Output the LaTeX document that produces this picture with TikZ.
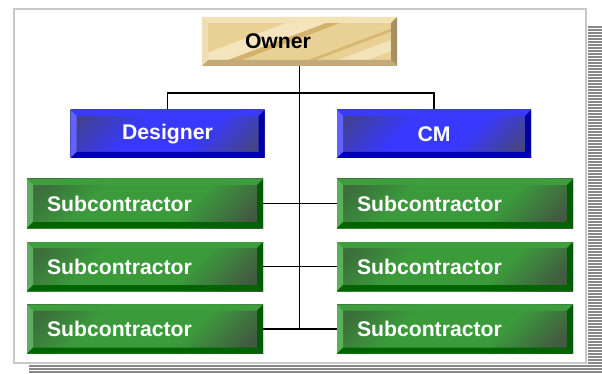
\documentclass[tikz,border=0pt]{standalone}
\usepackage{fontspec}
\setmainfont{Liberation Sans}
\definecolor{framegray}{HTML}{C8C8C8}
\definecolor{shadowgray}{HTML}{888888}
\definecolor{goldface}{HTML}{E9D196}
\definecolor{goldlight}{HTML}{F7EBC9}
\definecolor{golddark}{HTML}{C29A48}
\definecolor{goldtop}{HTML}{F3E2B5}
\definecolor{goldleft}{HTML}{F0DDB0}
\definecolor{goldright}{HTML}{A88F60}
\definecolor{goldbottom}{HTML}{C3AA7A}
\definecolor{blueD}{HTML}{414192}
\definecolor{blueD2}{HTML}{464680}
\definecolor{blueM}{HTML}{3838FF}
\definecolor{bluetop}{HTML}{3A3AFA}
\definecolor{blueleft}{HTML}{6262FF}
\definecolor{blueright}{HTML}{0000A6}
\definecolor{bluebottom}{HTML}{0000B4}
\definecolor{greenD}{HTML}{3B6E3B}
\definecolor{greenD2}{HTML}{425842}
\definecolor{greenM}{HTML}{3B9B3B}
\definecolor{greentop}{HTML}{3E9E3E}
\definecolor{greenleft}{HTML}{5CB05C}
\definecolor{greenright}{HTML}{005C00}
\definecolor{greenbottom}{HTML}{006400}
\pgfdeclareverticalshading{greenface}{100bp}{color(0bp)=(greenD2); color(20bp)=(greenD2); color(38bp)=(greenM); color(64bp)=(greenM); color(80bp)=(greenD); color(100bp)=(greenD)}
\pgfdeclareverticalshading{blueface}{100bp}{color(0bp)=(blueD2); color(20bp)=(blueD2); color(40bp)=(blueM); color(60bp)=(blueM); color(80bp)=(blueD); color(100bp)=(blueD)}
\pgfdeclarelayer{framelayer}
\pgfdeclarelayer{lineslayer}
\pgfsetlayers{framelayer,lineslayer,main}
\tikzset{
  bevel/.style n args={5}{path picture={
    \path (path picture bounding box.north west) coordinate (bNW)
          (path picture bounding box.north east) coordinate (bNE)
          (path picture bounding box.south east) coordinate (bSE)
          (path picture bounding box.south west) coordinate (bSW);
    \clip (bNW) rectangle (bSE);
    #5
    \fill[#1] (bNW) -- (bNE) -- ([shift={(-6,6)}]bNE) -- ([shift={(6,6)}]bNW) -- cycle;
    \fill[#2] (bNW) -- ([shift={(6,6)}]bNW) -- ([shift={(6,-6)}]bSW) -- (bSW) -- cycle;
    \fill[#3] (bNE) -- (bSE) -- ([shift={(-6,-6)}]bSE) -- ([shift={(-6,6)}]bNE) -- cycle;
    \fill[#4] (bSW) -- ([shift={(6,-6)}]bSW) -- ([shift={(-6,-6)}]bSE) -- (bSE) -- cycle;
  }},
  boxtext/.style={font=\bfseries\fontsize{21.2}{25}\selectfont},
  ownerbox/.style={boxtext, text=black, fill=goldface, minimum height=49pt,
    inner xsep=43pt, text width=109pt, align=left,
    bevel={goldtop}{goldleft}{goldright}{goldbottom}{
      \fill[goldlight, opacity=0.8] ([shift={(-30,0)}]bSW) -- ++(130,-49) -- ++(40,0) -- ++(-130,49) -- cycle;
      \fill[golddark, opacity=0.55] ([shift={(10,0)}]bSW) -- ++(130,-49) -- ++(14,0) -- ++(-130,49) -- cycle;
      \fill[golddark, opacity=0.45] ([shift={(90,0)}]bSW) -- ++(130,-49) -- ++(8,0) -- ++(-130,49) -- cycle;
      \fill[goldlight, opacity=0.7] ([shift={(120,0)}]bSW) -- ++(130,-49) -- ++(30,0) -- ++(-130,49) -- cycle;
    }},
  bluebox/.style={boxtext, text=white, shade, shading=blueface, shading angle=45,
    minimum width=194pt, minimum height=48pt,
    bevel={bluetop}{blueleft}{blueright}{bluebottom}{}},
  subbox/.style={boxtext, text=white, shade, shading=greenface, shading angle=45,
    minimum height=49pt,
    inner xsep=20pt, text width=196pt, align=left,
    bevel={greentop}{greenleft}{greenright}{greenbottom}{}},
  conn/.style={line width=1.5pt, black},
}
\begin{document}
\begin{tikzpicture}[x=1pt,y=-1pt]
\useasboundingbox (0,0) rectangle (602,374);
\begin{pgfonlayer}{framelayer}
  \foreach \k in {0,...,116} {
    \fill[shadowgray] (588,26+3*\k) rectangle (602,28+3*\k);
  }
  \foreach \k in {113,...,116} {
    \fill[shadowgray] (29,26+3*\k) rectangle (588,28+3*\k);
  }
  \draw[framegray, line width=2pt, fill=white] (14,9) rectangle (586,363);
\end{pgfonlayer}

\node[ownerbox] (owner) at (299.5,41.5) {Owner};
\node[bluebox] (des) at (167.5,134) {Designer};
\node[bluebox] (cm) at (434,134) {CM};
\node[subbox] (sl1) at (145,203.5) {Subcontractor};
\node[subbox] (sl2) at (145,266.5) {Subcontractor};
\node[subbox] (sl3) at (145,329) {Subcontractor};
\node[subbox] (sr1) at (455,203.5) {Subcontractor};
\node[subbox] (sr2) at (455,266.5) {Subcontractor};
\node[subbox] (sr3) at (455,329) {Subcontractor};

\coordinate (jt) at (299.5,93);
\coordinate (trunkend) at (299.5,329);
\begin{pgfonlayer}{lineslayer}
  \draw[conn] (owner.south) -- (trunkend);
  \draw[conn] (des.north) |- (jt) -| (cm.north);
  \draw[conn] (sl1.east) -- (sr1.west);
  \draw[conn] (sl2.east) -- (sr2.west);
  \draw[conn] (sl3.east) -- (sr3.west);
\end{pgfonlayer}
\end{tikzpicture}
\end{document}
